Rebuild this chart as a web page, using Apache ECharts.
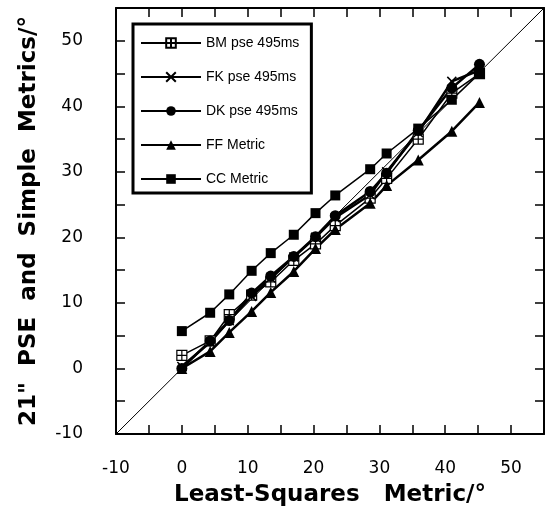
<!DOCTYPE html>
<html>
<head>
<meta charset="utf-8">
<script src="https://cdn.jsdelivr.net/npm/echarts@6/dist/echarts.min.js"></script>
<style>
  html, body { margin: 0; padding: 0; background: #fff; }
  #chart { width: 547px; height: 522px; }
</style>
</head>
<body>
<div id="chart"></div>
<script>
// least-squares metric (x) shared by every series
var lsMetric = [0, 4.3, 7.2, 10.6, 13.5, 17, 20.3, 23.3, 28.6, 31.1, 35.9, 41, 45.2];
var bmPse = [2, 4.2, 8.2, 11.2, 13.2, 16.5, 19, 21.8, 26, 29, 35, 42, 45];
var fkPse = [0.3, 4, 7.3, 11, 13.8, 17, 20, 23, 26.5, 30, 36, 43.8, 45.5];
var dkPse = [0, 4.2, 7.3, 11.5, 14.1, 17.1, 20.1, 23.3, 27, 29.8, 36.3, 42.8, 46.4];
var ffMetric = [0, 2.6, 5.5, 8.7, 11.6, 14.8, 18.3, 21.2, 25.2, 27.9, 31.8, 36.2, 40.6];
var ccMetric = [5.7, 8.5, 11.3, 14.9, 17.6, 20.4, 23.7, 26.4, 30.4, 32.8, 36.6, 41, 45];
var seriesNames = ['BM pse 495ms', 'FK pse 495ms', 'DK pse 495ms', 'FF Metric', 'CC Metric'];
var diagonal = [-10, 55];
var axisMin = -10, axisMax = 55, tickStep = 5;

var FONT = '"Liberation Sans", Arial, Helvetica, sans-serif';
var WIDE = '"DejaVu Sans", Verdana, sans-serif';

function pairs(ys) {
    return lsMetric.map(function (x, i) { return [x, ys[i]]; });
}

function mkAxis(pos, name, gap, margin) {
    var labelled = (pos === 'bottom' || pos === 'left');
    var ax = {
        type: 'value',
        position: pos,
        min: axisMin,
        max: axisMax,
        interval: tickStep,
        axisLine: { show: true, onZero: false, lineStyle: { color: '#000', width: 2 } },
        axisTick: { show: true, inside: true, length: 9, lineStyle: { color: '#000', width: 1.5 } },
        splitLine: { show: false },
        axisLabel: {
            show: labelled,
            color: '#000',
            fontFamily: WIDE,
            fontSize: 17,
            margin: margin || 8,
            formatter: function (v) { return (v % 10 === 0 && v < 55) ? String(v) : ''; }
        }
    };
    if (name) {
        ax.name = name;
        ax.nameLocation = 'middle';
        ax.nameGap = gap;
        ax.nameTextStyle = { color: '#000', fontFamily: WIDE, fontSize: 23, fontWeight: 'bold' };
    }
    return ax;
}

var chart = echarts.init(document.getElementById('chart'));

var symBM = 'path://M0,0H10V10H0Z M5,0V10 M0,5H10';
var symX = 'path://M0,0L10,10M10,0L0,10';

function lineSeries(name, ys, symbol, size, lw, fill, border) {
    return {
        name: name,
        type: 'line',
        data: pairs(ys),
        symbol: symbol,
        symbolSize: size,
        showAllSymbol: true,
        lineStyle: { color: '#000', width: lw },
        itemStyle: { color: fill, borderColor: '#000', borderWidth: border },
        z: 3
    };
}

var option = {
    animation: false,
    backgroundColor: '#fff',
    grid: { left: 116, right: 2, top: 8, bottom: 88, containLabel: false },
    xAxis: [
        mkAxis('bottom', 'Least-Squares   Metric/°', 50, 26),
        mkAxis('top')
    ],
    yAxis: [
        mkAxis('left', '21"  PSE  and  Simple  Metrics/°', 75, 33),
        mkAxis('right')
    ],
    legend: {
        orient: 'vertical',
        left: 133,
        top: 24,
        data: seriesNames,
        itemWidth: 60,
        itemHeight: 12,
        itemGap: 20,
        padding: [12, 12, 7, 7],
        borderColor: '#000',
        borderWidth: 3,
        backgroundColor: '#fff',
        textStyle: { color: '#000', fontFamily: FONT, fontSize: 14 }
    },
    series: [
        {
            name: 'diagonal',
            type: 'line',
            data: diagonal.map(function (v) { return [v, v]; }),
            symbol: 'none',
            lineStyle: { color: '#000', width: 1 },
            silent: true,
            z: 1
        },
        lineSeries(seriesNames[0], bmPse, symBM, 10, 1.5, '#fff', 1.2),
        lineSeries(seriesNames[1], fkPse, symX, 9, 2.5, '#000', 1.5),
        lineSeries(seriesNames[2], dkPse, 'circle', 11, 2.5, '#000', 0),
        lineSeries(seriesNames[3], ffMetric, 'triangle', 11, 2.5, '#000', 0),
        lineSeries(seriesNames[4], ccMetric, 'rect', 10, 1.5, '#000', 0)
    ]
};

chart.setOption(option);
</script>
</body>
</html>
